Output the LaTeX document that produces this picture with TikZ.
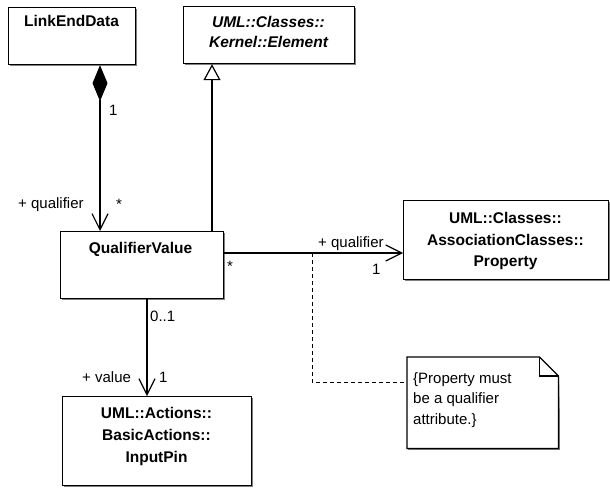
\documentclass[tikz,border=0pt]{standalone}
\usepackage{fontspec}
\setmainfont{Liberation Sans}
\usetikzlibrary{arrows.meta,shadows}
\tikzset{
  classbox/.style={draw, line width=1.2pt, fill=white, inner sep=0,
    drop shadow={shadow xshift=1.5pt, shadow yshift=-1.5pt, fill=black!50, opacity=1}},
  cname/.style={anchor=base, inner sep=0, font=\fontsize{15.5}{18}\selectfont\bfseries},
  cnameit/.style={cname, font=\fontsize{15.5}{18}\selectfont\bfseries\itshape},
  lbl/.style={anchor=base west, inner sep=0, font=\fontsize{15}{18}\selectfont},
  assoc/.style={line width=1.2pt},
  openhead/.style={-{Straight Barb[length=16pt,width=16pt,line width=1.2pt]}},
  notedash/.style={line width=1pt, dash pattern=on 4pt off 3pt},
}
\begin{document}
\begin{tikzpicture}[x=1pt,y=-1pt]
\useasboundingbox (0,0) rectangle (610,487);
% classes
\node[classbox, anchor=north west, minimum width=127pt, minimum height=57pt] (led) at (8,7) {};
\node[cname] (ledt) at (71.5,27) {LinkEndData};
\node[classbox, anchor=north west, minimum width=171pt, minimum height=57pt] (el) at (183,6) {};
\node[cnameit] (elt1) at (268.5,28) {UML::Classes::};
\node[cnameit] (elt2) at (268.5,48) {Kernel::Element};
\node[classbox, anchor=north west, minimum width=163pt, minimum height=67pt] (qv) at (60,231) {};
\node[cname] (qvt) at (140.5,253) {QualifierValue};
\node[classbox, anchor=north west, minimum width=205pt, minimum height=79pt] (prop) at (403,200) {};
\node[cname] (pt1) at (505.5,223) {UML::Classes::};
\node[cname] (pt2) at (505.5,245) {AssociationClasses::};
\node[cname] (pt3) at (505.5,266) {Property};
\node[classbox, anchor=north west, minimum width=189pt, minimum height=89pt] (ip) at (62,396) {};
\node[cname] (ipt1) at (156.5,418) {UML::Actions::};
\node[cname] (ipt2) at (156.5,440) {BasicActions::};
\node[cname] (ipt3) at (156.5,462) {InputPin};
% note
\node[anchor=north west, minimum width=151pt, minimum height=91pt, inner sep=0] (note) at (407,357) {};
\fill[black!50] ([xshift=1.5pt,yshift=-1.5pt]note.north east) ++(0,-19pt) -- ([xshift=1.5pt,yshift=-1.5pt]note.south east) -- ([xshift=1.5pt,yshift=-1.5pt]note.south west) -- (note.south west) -- (note.south east) -- cycle;
\draw[line width=1.2pt, fill=white] (note.north west) -- ([xshift=-19pt]note.north east) -- ([yshift=-19pt]note.north east) -- (note.south east) -- (note.south west) -- cycle;
\draw[line width=1.2pt] ([xshift=-19pt]note.north east) |- ([yshift=-19pt]note.north east);
\node[lbl] (n1) at (413,383) {\{Property must};
\node[lbl] (n2) at (413,403) {be a qualifier};
\node[lbl] (n3) at (413,424) {attribute.\}};
% connectors
\draw[assoc, {Diamond[fill=black,length=36pt,width=15pt,line width=1pt]}-{Straight Barb[length=16pt,width=16pt,line width=1.2pt]}]
  (100,0 |- led.south) -- (100,0 |- qv.north);
\draw[assoc, -{Triangle[open,fill=white,length=16pt,width=17pt,line width=1.2pt]}]
  (212,0 |- qv.north) -- (212,0 |- el.south);
\draw[assoc, openhead] (qv.east |- 0,253) -- (prop.west |- 0,253);
\draw[assoc, openhead] (147,0 |- qv.south) -- (147,0 |- ip.north);
\coordinate (dj) at (312,253);
\draw[notedash] (dj) |- (note.west |- 0,382);
% labels
\node[lbl] (m1) at (109,115) {1};
\node[lbl] (r1) at (18,208) {+ qualifier};
\node[lbl] (m2) at (116,209) {*};
\node[lbl] (m3) at (227,271) {*};
\node[lbl] (r2) at (318,247) {+ qualifier};
\node[lbl] (m4) at (372,274) {1};
\node[lbl] (m5) at (150,321) {0..1};
\node[lbl] (r3) at (82,382) {+ value};
\node[lbl] (m6) at (159,382) {1};
\end{tikzpicture}
\end{document}
